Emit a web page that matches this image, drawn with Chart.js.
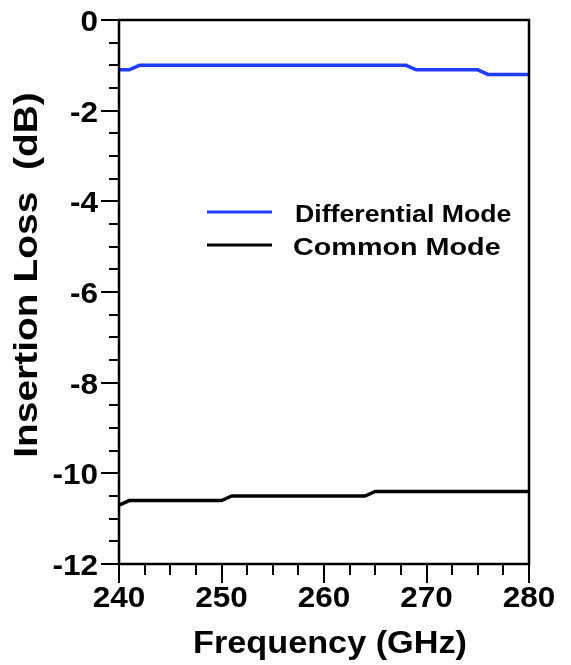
<!DOCTYPE html>
<html>
<head>
<meta charset="utf-8">
<script src="https://cdn.jsdelivr.net/npm/chart.js@4.4.1/dist/chart.umd.min.js"></script>
<style>
  html, body { margin: 0; padding: 0; background: #fff; }
  #wrap { width: 571px; height: 665px; }
</style>
</head>
<body>
<div id="wrap"><canvas id="il" width="571" height="665"></canvas></div>
<script>
// ── DATA ─────────────────────────────────────────
const diffFreq = [240, 241, 242, 268, 269, 275, 276, 280];
const diffLoss = [-1.1, -1.1, -1.0, -1.0, -1.1, -1.1, -1.2, -1.2];
const commFreq = [240, 241, 250, 251, 264, 265, 280];
const commLoss = [-10.7, -10.6, -10.6, -10.5, -10.5, -10.4, -10.4];

const xTicks = [240, 250, 260, 270, 280];
const yTicks = [0, -2, -4, -6, -8, -10, -12];
const seriesNames = ['Differential Mode', 'Common Mode'];
const seriesColors = ['#1E3DFF', '#000000'];

const FONT = "'Liberation Sans', Arial, sans-serif";

function pts(xs, ys) { return xs.map((x, i) => ({ x, y: ys[i] })); }

// text with horizontal stretch (original figure uses wide bold Arial)
function stretchText(ctx, txt, x, y, size, align, sx, rot) {
  ctx.save();
  ctx.translate(x, y);
  if (rot) ctx.rotate(rot);
  ctx.scale(sx, 1);
  ctx.font = 'bold ' + size + 'px ' + FONT;
  ctx.fillStyle = '#000';
  ctx.textAlign = align;
  ctx.textBaseline = 'alphabetic';
  ctx.fillText(txt, 0, 0);
  ctx.restore();
}

const frame = {
  id: 'frame',
  afterDraw(chart) {
    const { ctx, chartArea: a, scales: { x, y } } = chart;
    ctx.save();
    ctx.strokeStyle = '#000';
    ctx.lineWidth = 2.5;
    ctx.strokeRect(a.left, a.top, a.right - a.left, a.bottom - a.top);

    // x ticks: major every 10, minor every 2.5
    ctx.lineWidth = 2;
    ctx.beginPath();
    for (let v = x.min; v <= x.max + 0.01; v += 2.5) {
      const px = Math.round(x.getPixelForValue(v));
      const len = (v % 10 === 0) ? 19 : 11;
      ctx.moveTo(px, a.bottom);
      ctx.lineTo(px, a.bottom + len);
    }
    // y ticks: major every 2, minor every 0.5
    for (let v = y.min; v <= y.max + 0.01; v += 0.5) {
      const py = Math.round(y.getPixelForValue(v));
      const len = (Math.abs(v % 2) < 0.01) ? 18 : 10;
      ctx.moveTo(a.left, py);
      ctx.lineTo(a.left - len, py);
    }
    ctx.stroke();
    ctx.restore();

    xTicks.forEach(v => stretchText(ctx, String(v), x.getPixelForValue(v), a.bottom + 43, 30, 'center', 1.05));
    yTicks.forEach(v => stretchText(ctx, String(v), a.left - 21, y.getPixelForValue(v) + 11, 30, 'right', 1.05));

    stretchText(ctx, 'Frequency (GHz)', (a.left + a.right) / 2 + 6, a.bottom + 89, 32, 'center', 1.07);
    stretchText(ctx, 'Insertion Loss  (dB)', 37, (a.top + a.bottom) / 2 - 17, 33, 'center', 1.18, -Math.PI / 2);

    // legend
    const rows = [212, 245];
    ctx.save();
    ctx.lineWidth = 3;
    rows.forEach((ry, i) => {
      ctx.strokeStyle = seriesColors[i];
      ctx.beginPath();
      ctx.moveTo(207, ry);
      ctx.lineTo(272, ry);
      ctx.stroke();
    });
    ctx.restore();
    stretchText(ctx, seriesNames[0], 295, 222, 23, 'left', 1.16);
    stretchText(ctx, seriesNames[1], 293, 255, 23, 'left', 1.25);
  }
};

new Chart(document.getElementById('il'), {
  type: 'line',
  data: {
    datasets: [
      { label: seriesNames[0], data: pts(diffFreq, diffLoss), borderColor: seriesColors[0], borderWidth: 3.5, pointRadius: 0, tension: 0 },
      { label: seriesNames[1], data: pts(commFreq, commLoss), borderColor: seriesColors[1], borderWidth: 3.5, pointRadius: 0, tension: 0 }
    ]
  },
  options: {
    responsive: false,
    animation: false,
    layout: { padding: { left: 119, top: 20, right: 42, bottom: 101 } },
    plugins: { legend: { display: false }, tooltip: { enabled: false } },
    scales: {
      x: { type: 'linear', min: 240, max: 280, display: false },
      y: { type: 'linear', min: -12, max: 0, display: false }
    }
  },
  plugins: [frame]
});
</script>
</body>
</html>
